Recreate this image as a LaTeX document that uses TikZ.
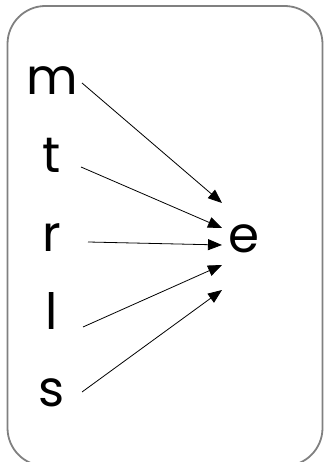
\documentclass[tikz,border=0pt]{standalone}
\usepackage{fontspec}
\setmainfont{Poppins}
\usetikzlibrary{arrows.meta}
\tikzset{
    letter/.style={anchor=base,inner sep=0pt,font=\fontsize{50}{50}\selectfont},
    arr/.style={-{Triangle[length=14pt,width=11pt]},line width=0.8pt}
}
\begin{document}
\begin{tikzpicture}[x=1pt,y=1pt]
            % Define dimensions
            \def\pw{324}
            \def\ph{462}
            \useasboundingbox (0,0) rectangle (\pw,\ph);
            % Frame
            \draw[gray,line width=1.8pt,rounded corners=38pt] (7.5,456) rectangle (322.5,-4);
            % Letters on the left
            \foreach \name/\y in {m/95,t/173,r/252,l/330,s/407}
                \node[letter] (\name) at (52,\ph-\y) {\name};
            \node[letter] (e) at (244,209) {e};
            % Arrows into e
            \foreach \src/\sx/\sy/\ey in {m/30/12/50,t/29/6/25,r/36/10/8,l/31/3/-12,s/30/15/-37}
                \draw[arr] ([shift={(\sx,\sy)}]\src.base) -- ([shift={(-22,\ey)}]e.base);
        \end{tikzpicture}
\end{document}
